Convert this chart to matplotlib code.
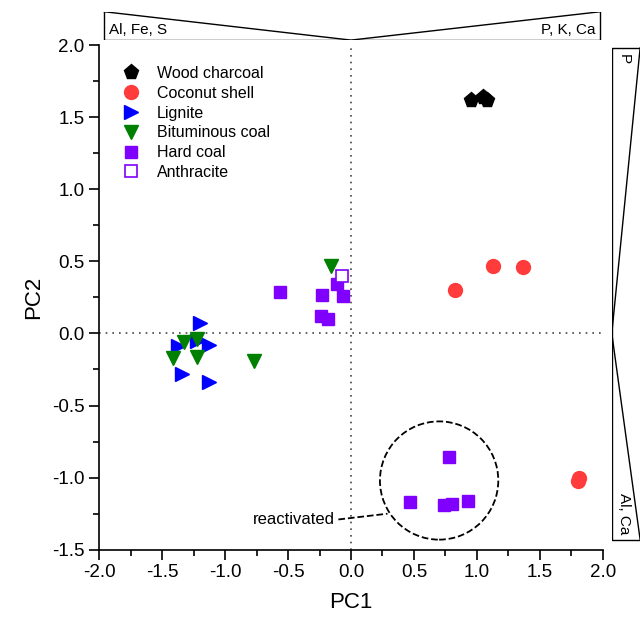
import numpy as np
import matplotlib.pyplot as plt
from matplotlib.patches import Ellipse

plt.rcParams['font.family'] = ['Liberation Sans', 'DejaVu Sans']

# PCA scores
wood_x = [0.95, 1.05, 1.08]
wood_y = [1.62, 1.64, 1.62]
coco_x = [1.13, 1.37, 0.83, 1.80, 1.81]
coco_y = [0.47, 0.46, 0.30, -1.02, -1.00]
lig_x = [-1.20, -1.37, -1.13, -1.22, -1.34, -1.13]
lig_y = [0.07, -0.09, -0.08, -0.05, -0.28, -0.34]
bit_x = [-1.33, -1.22, -1.41, -1.22, -0.77, -0.16]
bit_y = [-0.06, -0.04, -0.17, -0.16, -0.19, 0.47]
hard_x = [-0.56, -0.23, -0.11, -0.06, -0.24, -0.18, 0.78, 0.47, 0.74, 0.80, 0.93]
hard_y = [0.29, 0.27, 0.34, 0.26, 0.12, 0.10, -0.86, -1.17, -1.19, -1.18, -1.16]
anth_x = [-0.07]
anth_y = [0.40]

# loading bars
top_labels = ['Al, Fe, S', 'P, K, Ca']
right_labels = ['P', 'Al, Ca']

red = '#ff3b3b'
purple = '#8000ff'

fig = plt.figure(figsize=(6.44, 6.17), dpi=100)
ax = fig.add_axes([0.154, 0.109, 0.782, 0.818])

ax.axvline(0, color='#444444', ls=(0, (1, 3)), lw=1.2, zorder=0)
ax.axhline(0, color='#444444', ls=(0, (1, 3)), lw=1.2, zorder=0)

ax.plot(wood_x, wood_y, ls='none', marker='p', ms=11, color='black', label='Wood charcoal')
ax.plot(coco_x, coco_y, ls='none', marker='o', ms=10, color=red, label='Coconut shell')
ax.plot(lig_x, lig_y, ls='none', marker='>', ms=10, color='#0000ff', label='Lignite')
ax.plot(bit_x, bit_y, ls='none', marker='v', ms=10, color='#008000', label='Bituminous coal')
ax.plot(hard_x, hard_y, ls='none', marker='s', ms=8, color=purple, label='Hard coal')
ax.plot(anth_x, anth_y, ls='none', marker='s', ms=8, mfc='white', mec=purple, mew=1.2,
        label='Anthracite')

# circle around the reactivated samples
ax.add_patch(Ellipse((0.70, -1.02), 0.94, 0.82, fill=False, ec='black', ls='--', lw=1.3))
ax.plot([-0.10, 0.29], [-1.29, -1.25], color='black', ls='--', lw=1.3)
ax.text(-0.13, -1.29, 'reactivated', ha='right', va='center', fontsize=12)

ax.set_xlim(-2, 2)
ax.set_ylim(-1.5, 2)
ax.set_xticks(np.arange(-2, 2.01, 0.5))
ax.set_yticks(np.arange(-1.5, 2.01, 0.5))
ax.set_xticks(np.arange(-1.75, 2, 0.5), minor=True)
ax.set_yticks(np.arange(-1.25, 2, 0.5), minor=True)
ax.xaxis.set_major_formatter(plt.FormatStrFormatter('%.1f'))
ax.yaxis.set_major_formatter(plt.FormatStrFormatter('%.1f'))
ax.tick_params(which='major', direction='out', length=7, width=1.2, labelsize=13.5)
ax.tick_params(which='minor', direction='out', length=4, width=1.2)
ax.spines['top'].set_visible(False)
ax.spines['right'].set_visible(False)
ax.spines['left'].set_linewidth(1.2)
ax.spines['bottom'].set_linewidth(1.2)
ax.set_xlabel('PC1', fontsize=16, labelpad=8)
ax.set_ylabel('PC2', fontsize=16, labelpad=6)

ax.legend(loc='upper left', bbox_to_anchor=(0.0, 0.99), frameon=False, fontsize=11.5,
          labelspacing=0.3, handletextpad=0.6, borderaxespad=0.6)

# top loading bar (PC1)
tax = fig.add_axes([0.154, 0.935, 0.782, 0.046], sharex=ax)
tax.set_ylim(0, 1)
tax.axis('off')
tax.plot([-1.96, -1.96, 1.98, 1.98], [1, 0, 0, 1], color='black', lw=1)
tax.plot([-1.96, 0, 1.98], [1, 0, 1], color='black', lw=1)
tax.text(-1.92, 0.12, top_labels[0], ha='left', va='bottom', fontsize=11)
tax.text(1.94, 0.12, top_labels[1], ha='right', va='bottom', fontsize=11)

# right loading bar (PC2)
rax = fig.add_axes([0.950, 0.109, 0.044, 0.818], sharey=ax)
rax.set_xlim(0, 1)
rax.axis('off')
rax.plot([1, 0, 0, 1], [1.98, 1.98, -1.43, -1.43], color='black', lw=1)
rax.plot([1, 0, 1], [1.98, 0, -1.43], color='black', lw=1)
rax.text(0.18, 1.94, right_labels[0], rotation=-90, ha='left', va='top', fontsize=11)
rax.text(0.18, -1.39, right_labels[1], rotation=-90, ha='left', va='bottom', fontsize=11)

fig.savefig('out.png', dpi=100)
